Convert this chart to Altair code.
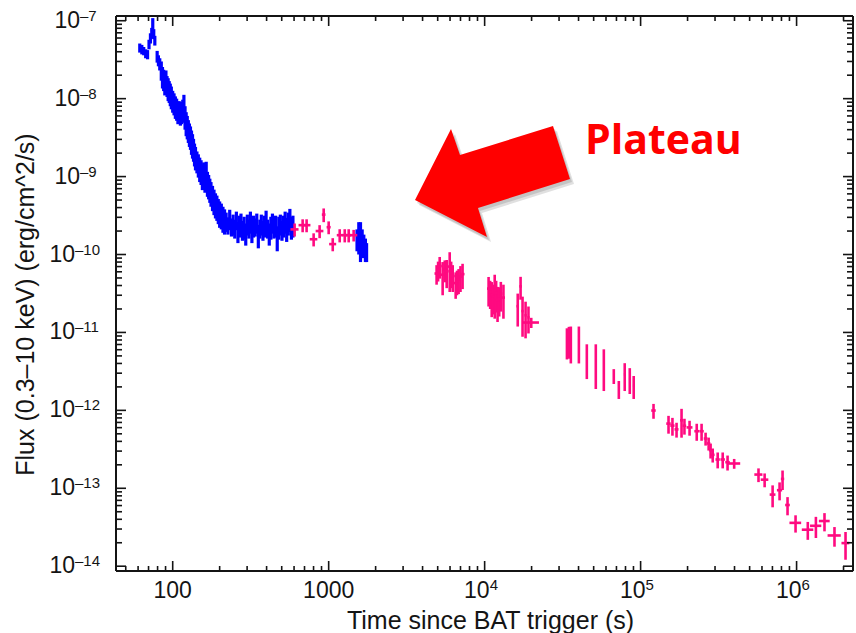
import altair as alt
import pandas as pd

# ---------------- data ----------------
# Swift-XRT WT mode (blue): time (s), flux, flux error
t_wt = [61.5, 63.4, 65.2, 67.1, 69.0,
        70.5, 72.0, 73.4, 74.5, 75.6, 76.8,
        79.5, 81.0, 82.6,
        84.5, 86.0, 87.5, 89.0, 90.5, 92.0, 93.5, 95.0, 96.5, 98.0,
        100, 102, 104, 106, 108, 110, 112, 114, 116, 118, 120, 122, 124,
        126, 128, 130, 132, 134, 136, 138, 140,
        143, 146, 149, 152, 155, 158, 161, 164, 167, 170, 173, 176, 180,
        184, 188, 192, 196, 200, 205, 210, 215,
        220, 226, 232, 238, 244, 250, 256, 262, 268, 274, 280, 287, 294, 301, 308,
        315, 322, 330, 338, 346, 354, 362, 370, 379, 388, 397, 406, 416, 426, 436,
        446, 457, 468, 479, 490, 502, 514, 526, 538, 551, 564, 577, 590,
        1520, 1560, 1600, 1640, 1680, 1720, 1750]
f_wt = [4.5e-8, 4.3e-8, 4.1e-8, 3.8e-8, 3.7e-8,
        5.0e-8, 6.0e-8, 7.0e-8, 9.0e-8, 6.8e-8, 5.6e-8,
        3.5e-8, 3.1e-8, 2.8e-8,
        2.35e-8, 1.95e-8, 1.8e-8, 1.6e-8, 1.75e-8, 1.5e-8, 1.38e-8, 1.28e-8, 1.18e-8, 1.08e-8,
        9.6e-9, 8.9e-9, 8.1e-9, 7.6e-9, 6.9e-9, 7.1e-9, 6.6e-9, 6.9e-9, 7.3e-9, 8.5e-9, 6.0e-9, 5.0e-9, 4.5e-9,
        4.0e-9, 3.6e-9, 3.3e-9, 2.9e-9, 2.6e-9, 2.3e-9, 2.0e-9, 1.8e-9,
        1.6e-9, 1.45e-9, 1.3e-9, 1.2e-9, 1.05e-9, 1.1e-9, 9.5e-10, 1.15e-9, 8.5e-10, 7.8e-10, 7.0e-10, 6.3e-10, 5.6e-10,
        5.0e-10, 4.5e-10, 4.2e-10, 3.8e-10, 3.5e-10, 3.3e-10, 3.0e-10, 2.8e-10,
        2.7e-10, 2.4e-10, 2.9e-10, 2.3e-10, 2.5e-10, 2.2e-10, 2.8e-10, 2.0e-10, 2.4e-10, 2.6e-10, 2.1e-10,
        2.3e-10, 1.9e-10, 2.5e-10, 2.2e-10, 2.7e-10, 2.0e-10, 2.4e-10, 2.3e-10, 2.6e-10, 1.8e-10, 2.2e-10,
        2.5e-10, 2.1e-10, 2.4e-10, 2.8e-10, 2.2e-10, 1.9e-10, 2.3e-10, 2.6e-10, 2.2e-10, 2.4e-10, 1.7e-10,
        2.3e-10, 2.5e-10, 2.1e-10, 2.4e-10, 2.7e-10, 2.2e-10, 2.6e-10, 2.9e-10, 2.3e-10, 2.4e-10,
        1.6e-10, 1.8e-10, 1.7e-10, 1.5e-10, 1.35e-10, 1.2e-10, 1.1e-10]
e_wt = [0.6e-8, 0.6e-8, 0.5e-8, 0.5e-8, 0.5e-8,
        0.7e-8, 0.9e-8, 1.1e-8, 1.8e-8, 1.0e-8, 0.8e-8,
        0.6e-8, 0.5e-8, 0.5e-8,
        0.65e-8, 0.6e-8, 0.55e-8, 0.5e-8, 0.55e-8, 0.45e-8, 0.45e-8, 0.4e-8, 0.38e-8, 0.35e-8,
        3.0e-9, 2.8e-9, 2.6e-9, 2.4e-9, 2.2e-9, 2.2e-9, 2.1e-9, 2.2e-9, 2.4e-9, 2.7e-9, 2.0e-9, 1.7e-9, 1.5e-9,
        1.3e-9, 1.2e-9, 1.1e-9, 1.0e-9, 0.9e-9, 0.75e-9, 0.65e-9, 0.6e-9,
        0.5e-9, 0.48e-9, 0.45e-9, 0.42e-9, 0.38e-9, 0.42e-9, 0.33e-9, 0.4e-9, 0.3e-9, 0.27e-9, 0.24e-9, 0.22e-9, 0.2e-9,
        1.8e-10, 1.6e-10, 1.5e-10, 1.35e-10, 1.3e-10, 1.2e-10, 1.1e-10, 1.0e-10,
        0.75e-10, 0.6e-10, 0.85e-10, 0.6e-10, 0.75e-10, 0.6e-10, 0.75e-10, 0.6e-10, 0.75e-10, 0.75e-10, 0.6e-10,
        0.75e-10, 0.6e-10, 0.75e-10, 0.6e-10, 0.85e-10, 0.6e-10, 0.75e-10, 0.6e-10, 0.75e-10, 0.6e-10, 0.6e-10,
        0.75e-10, 0.6e-10, 0.75e-10, 0.85e-10, 0.6e-10, 0.6e-10, 0.75e-10, 0.75e-10, 0.6e-10, 0.75e-10, 0.6e-10,
        0.75e-10, 0.75e-10, 0.6e-10, 0.75e-10, 0.85e-10, 0.75e-10, 0.85e-10, 0.95e-10, 0.75e-10, 0.75e-10,
        0.5e-10, 0.8e-10, 0.9e-10, 0.6e-10, 0.45e-10, 0.4e-10, 0.3e-10]

# Swift-XRT PC mode (pink): time, time error, flux, flux error
t_pc = [605, 681, 722, 801, 875, 929, 1000, 1062, 1177, 1268, 1344, 1446,
        4920, 5030, 5150, 5380, 5550, 5710, 5970, 6100, 6240, 6520, 6650, 6810, 7000, 7220,
        10600, 10850, 11100, 11350, 11600, 11850, 12100, 12400, 12700, 13200,
        16300, 17000, 17500, 18300, 19100, 19900,
        33700, 34700, 35700, 40200, 45200, 51600, 58100, 67300, 72500, 79100, 85200, 90300,
        121000, 151000, 160000, 170000, 183000, 191000, 206000, 229000, 246000, 261000,
        273000, 281000, 290000, 312000, 336000, 361000, 398000,
        570000, 624000, 702000, 778000, 813000, 875000, 985000, 1180000, 1330000,
        1510000, 1750000, 2060000]
dt_pc = [36, 40, 42, 45, 50, 25, 30, 55, 50, 50, 50, 80,
         150, 150, 160, 160, 170, 170, 180, 180, 190, 190, 200, 200, 210, 210,
         250, 250, 260, 260, 270, 270, 280, 280, 290, 300,
         300, 300, 300, 300, 300, 2400,
         400, 400, 400, 500, 500, 600, 700, 800, 900, 1000, 1000, 1000,
         4000, 5000, 5000, 5000, 4000, 5000, 9000, 8000, 8000, 7000,
         7000, 7000, 8000, 10000, 11000, 12000, 37000,
         34000, 35000, 30000, 30000, 20000, 30000, 85000, 100000, 110000,
         120000, 170000, 120000]
f_pc = [2.1e-10, 2.38e-10, 2.38e-10, 1.57e-10, 2.0e-10, 3.25e-10, 2.24e-10, 1.36e-10, 1.77e-10, 1.77e-10, 1.77e-10, 1.77e-10,
        5.7e-11, 6.3e-11, 7.1e-11, 5.5e-11, 6.4e-11, 6.1e-11, 7.0e-11, 5.9e-11, 5.3e-11, 4.3e-11, 4.6e-11, 4.8e-11, 5.2e-11, 5.6e-11,
        3.65e-11, 3.3e-11, 3.0e-11, 2.9e-11, 3.5e-11, 3.2e-11, 2.6e-11, 2.7e-11, 3.15e-11, 2.8e-11,
        2.17e-11, 3.9e-11, 1.88e-11, 1.66e-11, 1.56e-11, 1.34e-11,
        7.9e-12, 8.2e-12, 7.95e-12, 7.95e-12, 4.78e-12, 4.46e-12, 3.92e-12, 2.78e-12, 1.89e-12, 2.9e-12, 2.55e-12, 2.08e-12,
        9.95e-13, 6.76e-13, 6.37e-13, 5.7e-13, 7.46e-13, 6.34e-13, 6.04e-13, 5.4e-13, 5.4e-13, 4.35e-13,
        3.76e-13, 3.08e-13, 2.69e-13, 2.34e-13, 2.34e-13, 2.16e-13, 2.08e-13,
        1.5e-13, 1.29e-13, 8.3e-14, 9.45e-14, 1.32e-13, 6.1e-14, 3.6e-14, 2.94e-14, 3.3e-14,
        3.8e-14, 2.48e-14, 1.98e-14]
df_pc = [0.4e-10, 0.45e-10, 0.45e-10, 0.3e-10, 0.38e-10, 0.65e-10, 0.42e-10, 0.26e-10, 0.34e-10, 0.34e-10, 0.34e-10, 0.3e-10,
         1.6e-11, 1.8e-11, 2.2e-11, 2.5e-11, 2.0e-11, 2.4e-11, 3.7e-11, 2.2e-11, 2.0e-11, 1.6e-11, 1.6e-11, 1.7e-11, 1.9e-11, 2.0e-11,
         1.5e-11, 1.3e-11, 1.43e-11, 1.2e-11, 2.0e-11, 1.4e-11, 1.24e-11, 1.1e-11, 1.3e-11, 1.3e-11,
         0.98e-11, 1.27e-11, 1.0e-11, 0.82e-11, 0.59e-11, 0.2e-11,
         3.4e-12, 3.6e-12, 3.95e-12, 3.95e-12, 2.26e-12, 2.58e-12, 2.15e-12, 0.6e-12, 0.49e-12, 1.13e-12, 0.93e-12, 0.68e-12,
         2.15e-13, 1.74e-13, 1.64e-13, 1.23e-13, 3.0e-13, 1.46e-13, 1.31e-13, 1.33e-13, 1.33e-13, 0.82e-13,
         0.71e-13, 0.67e-13, 0.55e-13, 0.54e-13, 0.54e-13, 0.47e-13, 0.3e-13,
         0.3e-13, 0.26e-13, 2.6e-14, 2.45e-14, 3.7e-14, 1.6e-14, 0.9e-14, 0.76e-14, 1.0e-14,
         1.0e-14, 0.7e-14, 0.77e-14]

# axes: tick values and labels (base and exponent)
x_major = [100, 1000, 1e4, 1e5, 1e6]
x_base = ["100", "1000", "10", "10", "10"]
x_exp = ["", "", "4", "5", "6"]
x_minor = [50, 60, 70, 80, 90,
           200, 300, 400, 500, 600, 700, 800, 900,
           2000, 3000, 4000, 5000, 6000, 7000, 8000, 9000,
           2e4, 3e4, 4e4, 5e4, 6e4, 7e4, 8e4, 9e4,
           2e5, 3e5, 4e5, 5e5, 6e5, 7e5, 8e5, 9e5,
           2e6]
y_major = [1e-14, 1e-13, 1e-12, 1e-11, 1e-10, 1e-9, 1e-8, 1e-7]
y_base = ["10", "10", "10", "10", "10", "10", "10", "10"]
y_exp = ["\u201314", "\u201313", "\u201312", "\u201311", "\u201310", "\u20139", "\u20138", "\u20137"]
y_minor = [2e-14, 3e-14, 4e-14, 5e-14, 6e-14, 7e-14, 8e-14, 9e-14,
           2e-13, 3e-13, 4e-13, 5e-13, 6e-13, 7e-13, 8e-13, 9e-13,
           2e-12, 3e-12, 4e-12, 5e-12, 6e-12, 7e-12, 8e-12, 9e-12,
           2e-11, 3e-11, 4e-11, 5e-11, 6e-11, 7e-11, 8e-11, 9e-11,
           2e-10, 3e-10, 4e-10, 5e-10, 6e-10, 7e-10, 8e-10, 9e-10,
           2e-9, 3e-9, 4e-9, 5e-9, 6e-9, 7e-9, 8e-9, 9e-9,
           2e-8, 3e-8, 4e-8, 5e-8, 6e-8, 7e-8, 8e-8, 9e-8]

annotation = "Plateau"
x_title = "Time since BAT trigger (s)"
y_title = "Flux (0.3\u201310 keV) (erg/cm^2/s)"

# ---------------- chart ----------------
W, H = 737, 555
BLUE = "#0000ff"
PINK = "#ff0a80"
INK = "#141414"
FONT = "Liberation Sans"
LBL = 23
SUP = 15

wt = pd.DataFrame({"t": t_wt, "f": f_wt, "e": e_wt})
wt["lo"] = wt["f"] - wt["e"]
wt["hi"] = wt["f"] + wt["e"]

pc = pd.DataFrame({"t": t_pc, "dt": dt_pc, "f": f_pc, "df": df_pc})
pc["tlo"] = pc["t"] - pc["dt"]
pc["thi"] = pc["t"] + pc["dt"]
pc["lo"] = pc["f"] - pc["df"]
pc["hi"] = pc["f"] + pc["df"]

xs = alt.Scale(type="log", domain=[43.3, 2.3e6], nice=False)
ys = alt.Scale(type="log", domain=[8.68e-15, 1.15e-7], nice=False)

x_axis = alt.Axis(values=x_major, labels=False, title=x_title, ticks=False, domain=False,
                  grid=False, titleFont=FONT, titleFontSize=25, titleFontWeight="normal",
                  titleColor=INK, titleX=374, titleY=57, titleBaseline="alphabetic")
y_axis = alt.Axis(values=y_major, labels=False, title=y_title, ticks=False, domain=False,
                  grid=False, titleFont=FONT, titleFontSize=25, titleFontWeight="normal",
                  titleColor=INK, titleX=-83, titleY=288, titleAngle=270, titleAlign="center",
                  titleBaseline="alphabetic")

X = lambda f: alt.X(f, scale=xs, axis=x_axis)
Y = lambda f: alt.Y(f, scale=ys, axis=y_axis)

blue = alt.Chart(wt).mark_rule(color=BLUE, strokeWidth=3.2).encode(
    x=X("t:Q"), y=Y("lo:Q"), y2="hi:Q")

pink_v = alt.Chart(pc).mark_rule(color=PINK, strokeWidth=2.6).encode(
    x=X("t:Q"), y=Y("lo:Q"), y2="hi:Q")
pink_h = alt.Chart(pc).mark_rule(color=PINK, strokeWidth=2.6).encode(
    x=X("tlo:Q"), x2="thi:Q", y=Y("f:Q"))

def xticks(vals, length):
    d = pd.DataFrame({"v": vals})
    bot = alt.Chart(d).mark_rule(color=INK, strokeWidth=1.6).encode(
        x=X("v:Q"), y=alt.value(H), y2=alt.value(H - length))
    top = alt.Chart(d).mark_rule(color=INK, strokeWidth=1.6).encode(
        x=X("v:Q"), y=alt.value(0), y2=alt.value(length))
    return [bot, top]

def yticks(vals, length):
    d = pd.DataFrame({"v": vals})
    left = alt.Chart(d).mark_rule(color=INK, strokeWidth=1.6).encode(
        y=Y("v:Q"), x=alt.value(0), x2=alt.value(length))
    right = alt.Chart(d).mark_rule(color=INK, strokeWidth=1.6).encode(
        y=Y("v:Q"), x=alt.value(W), x2=alt.value(W - length))
    return [left, right]

tick_layers = xticks(x_major, 10) + xticks(x_minor, 5) + yticks(y_major, 10) + yticks(y_minor, 6)

# plot frame (box around the plotting area)
one = pd.DataFrame({"k": [annotation]})
frame = [
    alt.Chart(one).mark_rule(color=INK, strokeWidth=2).encode(x=alt.value(0), x2=alt.value(W), y=alt.value(0)),
    alt.Chart(one).mark_rule(color=INK, strokeWidth=2).encode(x=alt.value(0), x2=alt.value(W), y=alt.value(H)),
    alt.Chart(one).mark_rule(color=INK, strokeWidth=2).encode(y=alt.value(0), y2=alt.value(H), x=alt.value(0)),
    alt.Chart(one).mark_rule(color=INK, strokeWidth=2).encode(y=alt.value(0), y2=alt.value(H), x=alt.value(W)),
]

# tick labels drawn as text: base number plus raised exponent
xl = pd.DataFrame({"v": x_major, "base": x_base, "exp": x_exp})
xl["has_exp"] = xl["exp"] != ""
yl = pd.DataFrame({"v": y_major, "base": y_base, "exp": y_exp})
yl["two"] = yl["exp"].str.len() > 2

x_plain = alt.Chart(xl).transform_filter("!datum.has_exp").mark_text(
    font=FONT, fontSize=LBL, color=INK, align="center", baseline="alphabetic").encode(
    x=X("v:Q"), y=alt.value(H + 27), text="base:N")
x_pow_base = alt.Chart(xl).transform_filter("datum.has_exp").mark_text(
    font=FONT, fontSize=LBL, color=INK, align="right", baseline="alphabetic", dx=5).encode(
    x=X("v:Q"), y=alt.value(H + 27), text="base:N")
x_pow_exp = alt.Chart(xl).transform_filter("datum.has_exp").mark_text(
    font=FONT, fontSize=SUP, color=INK, align="left", baseline="alphabetic", dx=5).encode(
    x=X("v:Q"), y=alt.value(H + 19), text="exp:N")

def ylabels(filt, base_right):
    b = alt.Chart(yl).transform_filter(filt).mark_text(
        font=FONT, fontSize=LBL, color=INK, align="right", baseline="alphabetic", dy=7).encode(
        y=Y("v:Q"), x=alt.value(base_right), text="base:N")
    e = alt.Chart(yl).transform_filter(filt).mark_text(
        font=FONT, fontSize=SUP, color=INK, align="left", baseline="alphabetic", dy=0).encode(
        y=Y("v:Q"), x=alt.value(base_right), text="exp:N")
    return [b, e]

label_layers = [x_plain, x_pow_base, x_pow_exp] + ylabels("!datum.two", -36) + ylabels("datum.two", -41)

ARROW = ("M -0.9625 0.225 L -0.5125 -0.6625 L -0.4 -0.3375 L 0.7625 -0.7 "
         "L 0.975 -0.0375 L -0.175 0.325 L -0.0625 0.6875 Z")
shadow1 = alt.Chart(one).mark_point(shape=ARROW, filled=True, size=25600, color="#000000",
                                    opacity=0.12, strokeWidth=0).encode(
    x=alt.value(380), y=alt.value(171))
shadow2 = alt.Chart(one).mark_point(shape=ARROW, filled=True, size=25600, color="#000000",
                                    opacity=0.12, strokeWidth=0).encode(
    x=alt.value(378), y=alt.value(169))
arrow = alt.Chart(one).mark_point(shape=ARROW, filled=True, size=25600, color="#ff0000",
                                  opacity=1, strokeWidth=0).encode(
    x=alt.value(376), y=alt.value(166))
label = alt.Chart(one).mark_text(font="Open Sans", fontWeight="bold", fontSize=41, color="#ff0000",
                                 align="left", baseline="alphabetic").encode(
    x=alt.value(469), y=alt.value(138), text="k:N")

chart = alt.layer(blue, pink_v, pink_h, *tick_layers, *frame, *label_layers,
                  shadow1, shadow2, arrow, label).properties(
    width=W, height=H,
    autosize="none",
    padding={"left": 116, "top": 16, "right": 3, "bottom": 62},
).configure_view(strokeWidth=0).configure(background="white")

chart.save("out.html", embed_options={"renderer": "svg", "actions": False})
